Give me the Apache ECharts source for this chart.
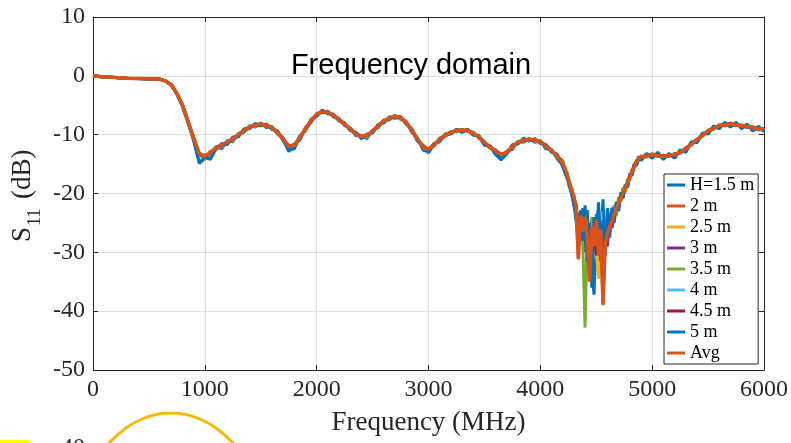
<!DOCTYPE html>
<html>
<head>
<meta charset="utf-8">
<script src="https://cdn.jsdelivr.net/npm/echarts@6/dist/echarts.min.js"></script>
<style>
html,body{margin:0;padding:0;background:#fff;}
#chart{width:791px;height:443px;}
</style>
</head>
<body>
<div id="chart"></div>
<script>
// ---- data ----
const freq = [0,100,200,300,400,500,600,650,700,750,800,
 850,900,950,1000,1050,1100,1150,1200,1250,1300,
 1350,1400,1450,1500,1550,1600,1650,1700,1750,1800,
 1850,1900,1950,2000,2050,2100,2150,2200,2250,2300,
 2350,2400,2450,2500,2550,2600,2650,2700,2750,2800,
 2850,2900,2950,3000,3050,3100,3150,3200,3250,3300,
 3350,3400,3450,3500,3550,3600,3650,3700,3750,3800,
 3850,3900,3950,4000,4050,4100,4150,4200,
 4220,4240,4260,4280,4300,4320,4340,4360,4380,4400,
 4420,4440,4460,4480,4500,4520,4540,4560,4580,4600,
 4620,4640,4660,4680,4700,4720,4740,4760,4780,4800,
 4820,4840,4860,4880,4900,
 4950,5000,5050,5100,5150,5200,5250,5300,5350,5400,
 5450,5500,5550,5600,5650,5700,5750,5800,5850,5900,
 5950,6000];

const h15 = [0,-0.2,-0.3,-0.4,-0.5,-0.5,-0.6,-0.9,-1.6,-3.1,-5.2,
 -8.0,-11.0,-14.6,-14.2,-13.6,-12.0,-12.4,-11.0,-11.2,-9.8,
 -9.6,-8.5,-8.7,-8.0,-8.8,-8.6,-9.9,-10.6,-12.9,-11.6,
 -10.9,-8.8,-7.9,-6.4,-6.2,-6.0,-7.0,-7.2,-8.5,-8.8,
 -10.2,-10.1,-10.7,-9.2,-8.8,-7.5,-7.5,-6.7,-7.4,-7.7,
 -9.6,-10.5,-12.6,-12.9,-11.5,-11.2,-9.9,-9.9,-9.1,-9.6,
 -9.1,-10.0,-10.2,-11.8,-12.0,-13.4,-14.3,-12.8,-12.5,-11.1,
 -11.3,-10.6,-11.3,-11.0,-12.4,-12.5,-14.1,-15.2,
 -16.4,-17.5,-18.0,-20.2,-21.5,-24.8,-26.0,-27.5,-22.5,-30.0,
 -22.8,-31.5,-33.0,-37.2,-26.0,-23.0,-28.5,-21.0,-30.5,-24.0,
 -27.5,-23.0,-25.0,-21.8,-22.5,-20.0,-20.6,-18.7,-18.9,-16.8,
 -16.9,-15.0,-15.2,-13.8,-14.3,
 -13.3,-14.0,-13.2,-14.2,-13.3,-13.9,-12.7,-12.9,-11.3,-11.3,
 -9.8,-9.8,-8.6,-8.9,-8.0,-8.6,-8.0,-8.9,-8.3,-9.3,
 -8.7,-9.4];

const h2 = [0,-0.2,-0.3,-0.4,-0.45,-0.5,-0.6,-0.9,-1.5,-3.0,-5.0,
 -7.7,-10.5,-13.4,-13.9,-12.8,-12.5,-11.6,-11.5,-10.5,-10.2,
 -9.1,-8.9,-8.2,-8.4,-8.2,-9.0,-9.4,-10.9,-12.2,-11.6,
 -10.7,-8.8,-7.8,-6.5,-6.1,-6.3,-6.6,-7.6,-8.0,-9.2,
 -9.6,-10.5,-9.9,-9.6,-8.3,-7.9,-7.0,-7.1,-6.9,-8.1,
 -9.0,-10.9,-11.8,-12.7,-11.5,-11.0,-9.9,-9.8,-9.1,-9.4,
 -9.1,-9.9,-10.2,-11.5,-11.9,-13.0,-13.2,-13.2,-11.8,-11.5,
 -10.7,-11.0,-10.7,-11.4,-11.7,-12.9,-13.4,-15.0,
 -15.6,-17.0,-18.0,-19.8,-20.2,-23.0,-31.2,-22.8,-27.5,-23.2,
 -28.8,-34.5,-24.8,-30.0,-23.5,-32.0,-25.2,-39.0,-27.8,-27.5,
 -25.0,-25.4,-23.0,-23.0,-21.2,-21.2,-19.5,-19.5,-18.0,-17.5,
 -16.0,-15.6,-14.4,-14.3,-13.6,
 -13.8,-13.2,-13.7,-13.5,-13.7,-13.2,-13.2,-12.2,-11.8,-10.7,
 -10.3,-9.2,-9.1,-8.3,-8.5,-8.0,-8.5,-8.3,-8.8,-8.6,
 -9.2,-8.9];

const h25 = [0,-0.2,-0.3,-0.4,-0.45,-0.5,-0.6,-0.9,-1.5,-3.0,-5.1,
 -7.9,-10.8,-13.6,-14.3,-13.1,-12.6,-11.9,-11.2,-10.9,-9.9,
 -9.5,-8.6,-8.6,-8.1,-8.6,-8.7,-9.8,-10.6,-12.5,-11.9,
 -10.4,-9.2,-7.5,-6.8,-5.9,-6.4,-6.8,-7.3,-8.4,-8.9,
 -10.0,-10.2,-10.4,-9.3,-8.6,-7.6,-7.3,-6.8,-7.3,-7.8,
 -9.4,-10.6,-12.2,-12.8,-11.8,-10.7,-10.3,-9.5,-9.5,-9.1,
 -9.5,-9.6,-10.6,-11.2,-12.3,-12.7,-13.7,-12.9,-12.2,-11.2,
 -11.1,-10.7,-11.1,-11.1,-12.1,-12.6,-13.8,-14.6,
 -16.0,-16.6,-18.6,-19.2,-21.0,-22.0,-27.0,-25.0,-24.5,-27.0,
 -26.0,-30.0,-27.0,-25.5,-29.5,-34.5,-24.0,-33.0,-26.5,-28.0,
 -24.5,-26.0,-22.8,-23.4,-21.0,-21.4,-19.2,-19.8,-17.8,-17.6,
 -15.8,-15.8,-14.3,-14.5,-13.5,
 -13.9,-13.6,-13.3,-13.9,-13.3,-13.6,-12.8,-12.6,-11.4,-11.1,
 -9.9,-9.6,-8.7,-8.7,-8.1,-8.4,-8.1,-8.7,-8.4,-9.0,
 -8.8,-9.2];

const h3 = [0,-0.2,-0.3,-0.4,-0.45,-0.5,-0.6,-0.9,-1.5,-3.0,-5.0,
 -7.8,-10.7,-13.3,-13.5,-13.3,-12.2,-12.0,-11.4,-10.6,-10.1,
 -9.2,-8.8,-8.3,-8.3,-8.3,-8.9,-9.5,-10.8,-11.8,-12.0,
 -10.3,-9.1,-7.7,-6.7,-6.0,-6.1,-6.8,-7.5,-8.1,-9.1,
 -9.7,-10.4,-10.0,-9.5,-8.4,-7.8,-7.1,-7.0,-7.0,-8.0,
 -9.1,-10.8,-11.9,-12.4,-11.9,-10.6,-10.2,-9.7,-9.2,-9.3,
 -9.2,-9.8,-10.3,-11.4,-12.2,-12.6,-13.5,-13.1,-11.9,-11.4,
 -10.8,-10.9,-10.8,-11.3,-11.8,-12.8,-13.5,-15.3,
 -15.9,-17.2,-18.4,-19.6,-21.2,-22.5,-25.0,-27.5,-24.0,-25.5,
 -29.5,-26.5,-31.0,-27.0,-29.8,-26.5,-31.5,-28.0,-26.0,-29.0,
 -24.0,-25.8,-24.2,-22.0,-22.2,-20.4,-20.2,-18.9,-18.5,-17.0,
 -16.6,-15.2,-14.9,-14.0,-14.0,
 -13.5,-13.5,-13.6,-13.6,-13.6,-13.3,-13.1,-12.5,-11.5,-10.9,
 -10.0,-9.5,-8.8,-8.6,-8.2,-8.3,-8.2,-8.6,-8.5,-8.9,
 -8.9,-9.1];

const h35 = [0,-0.2,-0.3,-0.4,-0.45,-0.5,-0.6,-0.9,-1.5,-3.0,-5.0,
 -7.7,-10.6,-13.1,-13.8,-12.9,-12.4,-11.7,-11.4,-10.6,-10.1,
 -9.2,-8.8,-8.3,-8.3,-8.3,-8.9,-9.5,-10.8,-12.1,-11.7,
 -10.6,-8.9,-7.7,-6.5,-6.1,-6.1,-6.8,-7.3,-8.3,-8.9,
 -9.9,-10.2,-10.2,-9.3,-8.6,-7.6,-7.3,-6.8,-7.2,-7.8,
 -9.3,-10.6,-12.1,-12.4,-11.8,-10.7,-10.2,-9.5,-9.4,-9.1,
 -9.4,-9.6,-10.5,-11.2,-12.2,-12.7,-13.5,-12.9,-12.1,-11.2,
 -11.0,-10.7,-11.0,-11.1,-12.0,-12.6,-13.7,-14.4,
 -16.2,-16.5,-18.8,-19.0,-20.8,-21.8,-26.0,-24.5,-29.0,-42.8,
 -25.0,-28.0,-24.0,-28.5,-25.5,-29.0,-27.5,-30.0,-25.2,-26.0,
 -23.2,-24.5,-22.0,-23.8,-20.6,-21.0,-19.0,-19.4,-17.6,-17.3,
 -15.9,-15.5,-14.5,-13.9,-13.9,
 -13.4,-13.6,-13.4,-13.8,-13.4,-13.5,-12.9,-12.5,-11.5,-11.0,
 -10.0,-9.5,-8.8,-8.6,-8.2,-8.3,-8.2,-8.6,-8.5,-8.9,
 -8.9,-9.1];

const h4 = [0,-0.2,-0.3,-0.4,-0.45,-0.5,-0.6,-0.9,-1.5,-3.0,-5.0,
 -7.9,-10.7,-13.5,-14.0,-13.2,-12.1,-12.1,-11.1,-10.9,-9.8,
 -9.4,-8.6,-8.5,-8.1,-8.5,-8.7,-9.7,-10.5,-12.3,-11.8,
 -10.6,-9.0,-7.6,-6.7,-6.0,-6.2,-6.7,-7.4,-8.3,-9.0,
 -9.9,-10.3,-10.3,-9.4,-8.6,-7.7,-7.3,-6.9,-7.2,-7.9,
 -9.3,-10.7,-12.1,-12.6,-11.7,-10.9,-10.1,-9.7,-9.3,-9.3,
 -9.3,-9.8,-10.4,-11.4,-12.1,-12.9,-13.6,-13.0,-12.1,-11.3,
 -11.0,-10.8,-11.0,-11.2,-12.0,-12.7,-13.7,-14.9,
 -15.7,-17.1,-18.1,-19.7,-20.4,-23.5,-24.5,-26.0,-25.0,-23.5,
 -27.0,-29.0,-25.0,-31.0,-26.0,-27.5,-23.0,-29.5,-27.0,-25.5,
 -26.0,-23.8,-24.0,-22.2,-21.8,-20.6,-20.0,-19.0,-18.3,-17.1,
 -16.4,-15.3,-14.8,-14.1,-13.8,
 -13.7,-13.3,-13.6,-13.6,-13.5,-13.4,-13.0,-12.4,-11.6,-10.9,
 -10.1,-9.4,-8.9,-8.5,-8.3,-8.2,-8.3,-8.5,-8.6,-8.8,
 -9.0,-9.0];

const h45 = [0,-0.2,-0.3,-0.4,-0.45,-0.5,-0.6,-0.9,-1.5,-3.0,-5.0,
 -7.8,-10.6,-13.3,-13.8,-13.1,-12.3,-11.9,-11.3,-10.8,-10.0,
 -9.4,-8.7,-8.5,-8.2,-8.5,-8.8,-9.7,-10.7,-12.1,-11.8,
 -10.6,-9.0,-7.7,-6.6,-6.1,-6.2,-6.8,-7.4,-8.3,-9.0,
 -9.9,-10.3,-10.2,-9.4,-8.6,-7.7,-7.3,-6.9,-7.2,-7.9,
 -9.3,-10.7,-12.1,-12.5,-11.8,-10.8,-10.2,-9.6,-9.4,-9.2,
 -9.4,-9.7,-10.5,-11.3,-12.2,-12.8,-13.5,-13.0,-12.1,-11.3,
 -11.0,-10.8,-11.0,-11.2,-12.0,-12.7,-13.6,-14.8,
 -16.1,-16.9,-18.5,-19.3,-21.0,-22.6,-25.5,-26.5,-25.5,-24.5,
 -28.0,-27.0,-29.5,-26.0,-30.5,-28.0,-25.5,-31.0,-27.5,-26.5,
 -25.0,-24.0,-23.8,-22.4,-21.5,-20.7,-19.7,-19.1,-18.2,-17.2,
 -16.3,-15.4,-14.6,-14.1,-13.8,
 -13.6,-13.5,-13.5,-13.6,-13.5,-13.5,-13.0,-12.4,-11.6,-10.9,
 -10.1,-9.4,-8.9,-8.6,-8.3,-8.2,-8.4,-8.5,-8.7,-8.8,
 -9.0,-9.1];

const h5 = [0,-0.2,-0.3,-0.4,-0.45,-0.5,-0.6,-0.9,-1.6,-3.1,-5.1,
 -7.9,-10.9,-14.9,-13.9,-14.2,-12.4,-11.5,-11.7,-10.4,-10.4,
 -9.0,-9.0,-8.1,-8.5,-8.2,-9.1,-9.4,-11.0,-12.6,-12.4,
 -10.2,-9.3,-7.4,-6.9,-5.8,-6.5,-6.5,-7.7,-8.0,-9.3,
 -9.6,-10.7,-10.0,-9.7,-8.3,-8.0,-7.0,-7.2,-7.0,-8.2,
 -9.0,-11.1,-11.8,-13.1,-11.6,-11.1,-10.0,-9.8,-9.2,-9.5,
 -9.2,-10.1,-10.2,-11.7,-11.9,-13.2,-14.2,-13.3,-11.7,-11.6,
 -10.6,-11.1,-10.7,-11.5,-11.7,-13.0,-13.3,-15.4,
 -16.5,-17.3,-18.9,-20.0,-22.0,-23.8,-27.5,-23.0,-28.0,-22.0,
 -31.5,-25.0,-36.0,-24.0,-28.0,-21.5,-29.0,-24.5,-29.5,-22.5,
 -26.5,-22.4,-24.6,-21.4,-23.0,-19.8,-20.8,-18.5,-19.0,-16.6,
 -17.0,-14.9,-15.3,-13.7,-14.4,
 -13.2,-13.9,-13.0,-14.1,-13.2,-14.0,-12.6,-13.0,-11.2,-11.4,
 -9.7,-9.9,-8.5,-9.0,-7.9,-8.7,-7.9,-9.0,-8.2,-9.4,
 -8.6,-9.5];

const avg = [0,-0.2,-0.3,-0.4,-0.45,-0.5,-0.6,-0.9,-1.5,-3.0,-5.0,
 -7.8,-10.6,-13.2,-13.7,-13.0,-12.3,-11.8,-11.3,-10.7,-10.0,
 -9.3,-8.7,-8.4,-8.2,-8.4,-8.8,-9.6,-10.7,-12.0,-11.8,
 -10.5,-9.0,-7.6,-6.6,-6.0,-6.2,-6.7,-7.4,-8.2,-9.0,
 -9.8,-10.3,-10.1,-9.4,-8.5,-7.7,-7.2,-6.9,-7.1,-7.9,
 -9.2,-10.7,-12.0,-12.5,-11.7,-10.8,-10.1,-9.6,-9.3,-9.2,
 -9.3,-9.7,-10.4,-11.3,-12.1,-12.8,-13.4,-13.0,-12.0,-11.3,
 -10.9,-10.8,-10.9,-11.2,-11.9,-12.7,-13.6,-14.8,
 -15.8,-16.8,-18.2,-19.4,-20.6,-22.2,-31.0,-23.8,-26.5,-24.0,
 -27.5,-35.0,-25.5,-29.0,-24.5,-30.5,-26.0,-38.8,-28.5,-26.8,
 -25.5,-24.8,-23.5,-22.6,-21.6,-20.8,-19.8,-19.2,-18.2,-17.2,
 -16.3,-15.4,-14.6,-14.1,-13.8,
 -13.6,-13.4,-13.5,-13.7,-13.5,-13.4,-13.0,-12.4,-11.6,-10.9,
 -10.1,-9.4,-8.9,-8.5,-8.3,-8.2,-8.3,-8.5,-8.6,-8.8,
 -9.0,-9.0];

const seriesNames = ['H=1.5 m','2 m','2.5 m','3 m','3.5 m','4 m','4.5 m','5 m','Avg'];
const seriesValues = [h15,h2,h25,h3,h35,h4,h45,h5,avg];
const seriesColors = ['#0072BD','#D95319','#EDB120','#7E2F8E','#77AC30','#4DBEEE','#A2142F','#0072BD','#D95319'];

const xTicks = [0,1000,2000,3000,4000,5000,6000];
const yTicks = [-50,-40,-30,-20,-10,0,10];

// partial next figure below (arc)
const arcX = [20,143,295,429,563,697,832,966,1100,1252,1375];
const arcY = [-24,-15,-7.5,-3.25,-0.75,0,-0.75,-3.25,-7.5,-15,-24];

// ---- chart ----
const serif = '"Liberation Serif","Times New Roman",serif';
const axisColor = '#262626';
const chart = echarts.init(document.getElementById('chart'), null, {renderer:'canvas'});

const series = seriesNames.map((name,i)=>({
  name: name,
  type: 'line',
  xAxisIndex: 0, yAxisIndex: 0,
  data: freq.map((f,j)=>[f, seriesValues[i][j]]),
  showSymbol: false,
  symbol: 'none',
  lineStyle: {color: seriesColors[i], width: name==='Avg' ? 3.5 : 3},
  itemStyle: {color: seriesColors[i]},
  emphasis: {disabled: true},
  z: 2 + i*0.01
}));
series.push({
  name: 'arc',
  type: 'line',
  xAxisIndex: 2, yAxisIndex: 2,
  data: arcX.map((x,j)=>[x, arcY[j]]),
  showSymbol: false,
  symbol: 'none',
  smooth: 0.3,
  lineStyle: {color: '#F7B80C', width: 3},
  itemStyle: {color: '#F7B80C'},
  emphasis: {disabled: true}
});

const option = {
  animation: false,
  backgroundColor: '#fff',
  grid: [
    {left: 93, right: 27, top: 17, bottom: 73, outerBoundsMode: 'none'},
    {left: 93, right: 27, top: 413, height: 200, outerBoundsMode: 'none'}
  ],
  legend: {
    data: seriesNames,
    orient: 'vertical',
    left: 664, top: 174,
    padding: [2, 4, 2, 3],
    itemGap: 3,
    itemWidth: 18, itemHeight: 3,
    icon: 'rect',
    backgroundColor: '#fff',
    borderColor: axisColor, borderWidth: 1,
    borderRadius: 0,
    textStyle: {fontFamily: serif, fontSize: 18, color: '#000', lineHeight: 18},
    selectedMode: false
  },
  xAxis: [
    {
      type: 'value', gridIndex: 0, position: 'bottom',
      min: xTicks[0], max: xTicks[xTicks.length-1], interval: 1000,
      axisLine: {show: true, onZero: false, lineStyle: {color: axisColor, width: 1}},
      axisTick: {show: true, inside: true, length: 5, lineStyle: {color: axisColor}},
      axisLabel: {fontFamily: serif, fontSize: 24, color: axisColor, margin: 8, formatter: v => String(v)},
      splitLine: {show: true, lineStyle: {color: '#dedede', width: 1}},
      name: 'Frequency (MHz)', nameLocation: 'middle', nameGap: 39,
      nameTextStyle: {fontFamily: serif, fontSize: 27, color: axisColor}
    },
    {
      type: 'value', gridIndex: 0, position: 'top',
      min: xTicks[0], max: xTicks[xTicks.length-1], interval: 1000,
      axisLine: {show: true, onZero: false, lineStyle: {color: axisColor, width: 1}},
      axisTick: {show: true, inside: true, length: 5, lineStyle: {color: axisColor}},
      axisLabel: {show: false},
      splitLine: {show: false}
    },
    {type: 'value', gridIndex: 1, min: 0, max: 6000, show: false}
  ],
  yAxis: [
    {
      type: 'value', gridIndex: 0, position: 'left',
      min: yTicks[0], max: yTicks[yTicks.length-1], interval: 10,
      axisLine: {show: true, onZero: false, lineStyle: {color: axisColor, width: 1}},
      axisTick: {show: true, inside: true, length: 5, lineStyle: {color: axisColor}},
      axisLabel: {fontFamily: serif, fontSize: 24, color: axisColor, margin: 8, formatter: v => String(v)},
      splitLine: {show: true, lineStyle: {color: '#dedede', width: 1}}
    },
    {
      type: 'value', gridIndex: 0, position: 'right',
      min: yTicks[0], max: yTicks[yTicks.length-1], interval: 10,
      axisLine: {show: true, onZero: false, lineStyle: {color: axisColor, width: 1}},
      axisTick: {show: true, inside: true, length: 5, lineStyle: {color: axisColor}},
      axisLabel: {show: false},
      splitLine: {show: false}
    },
    {type: 'value', gridIndex: 1, min: -100, max: 0, show: false}
  ],
  graphic: [
    {
      type: 'text', x: 411, y: 66, z: 10,
      style: {text: 'Frequency domain', fontFamily: '"Liberation Sans",Arial,sans-serif', fontSize: 29,
              fill: '#000', textAlign: 'center', textVerticalAlign: 'middle'}
    },
    {
      type: 'group', x: 23, y: 195, rotation: Math.PI/2, z: 10,
      children: [
        {type: 'text', x: -47, y: 0, style: {text: 'S', fontFamily: serif, fontSize: 27, fill: axisColor, textAlign: 'left', textVerticalAlign: 'middle'}},
        {type: 'text', x: -31, y: 12, style: {text: '11', fontFamily: serif, fontSize: 18, fill: axisColor, textAlign: 'left', textVerticalAlign: 'middle'}},
        {type: 'text', x: -4, y: 0, style: {text: '(dB)', fontFamily: serif, fontSize: 27, fill: axisColor, textAlign: 'left', textVerticalAlign: 'middle'}}
      ]
    },
    {
      type: 'text', x: 85, y: 436, z: 10,
      style: {text: '-40', fontFamily: serif, fontSize: 24, fill: axisColor, textAlign: 'right', textVerticalAlign: 'top'}
    },
    {
      type: 'rect', shape: {x: 0, y: 440, width: 30, height: 3}, z: 10,
      style: {fill: '#FFFF00'}
    }
  ],
  series: series
};
chart.setOption(option);
</script>
</body>
</html>
